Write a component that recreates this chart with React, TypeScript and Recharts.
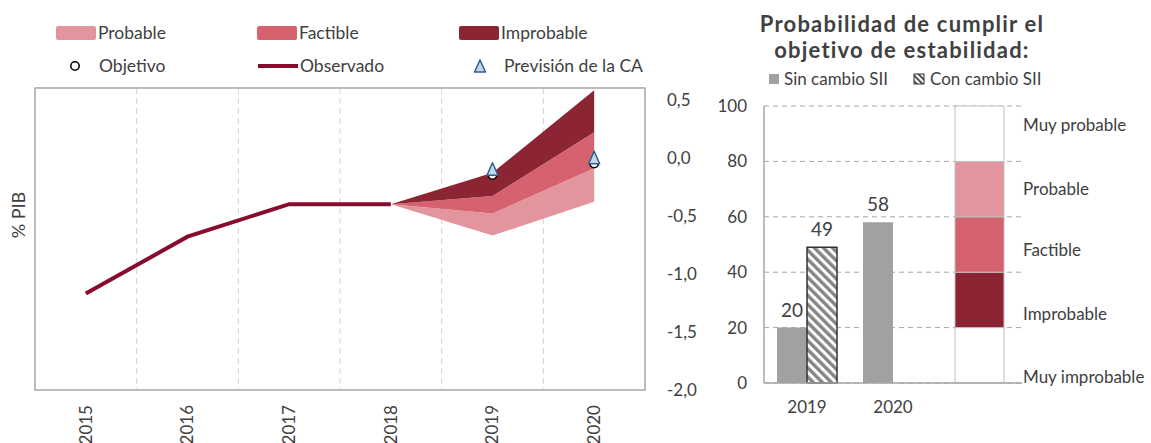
import React from 'react';
import {
  ComposedChart, Area, Line, XAxis, YAxis, ReferenceLine, ReferenceArea,
  BarChart, Bar, CartesianGrid, LabelList,
} from 'recharts';

const FONT = 'Lato, "Open Sans", sans-serif';
const TEXT = '#404040';

// ---------- Left chart data ----------
const years = ['2015', '2016', '2017', '2018', '2019', '2020'];
const observado = [-1.17, -0.68, -0.4, -0.4, null, null];
const probableLow = [null, null, null, -0.4, -0.67, -0.38];
const probableTop = [null, null, null, -0.4, -0.48, -0.09];
const factibleTop = [null, null, null, -0.4, -0.33, 0.22];
const improbableTop = [null, null, null, -0.4, -0.13, 0.58];
const objetivo = [null, null, null, null, -0.15, -0.05];
const prevision = [null, null, null, null, -0.1, 0.0];
const leftTicks = [-2, -1.5, -1, -0.5, 0, 0.5];

// each year occupies one slot of width 1 on the x scale; point sits in the middle
const yearPos = years.map((_, i) => i + 0.5);
const slotBoundaries = years.slice(1).map((_, i) => i + 1);
const X_DOMAIN: [number, number] = [0, years.length];
const Y_DOMAIN: [number, number] = [-2, 0.6];

const C_LIGHT = '#E3959E';
const C_MED = '#D6626F';
const C_DARK = '#8B2433';
const C_LINE = '#870B2D';
const C_TRI_FILL = '#C3D7EC';
const C_TRI_STROKE = '#2F5D8C';

const leftData = years.map((year, i) => ({
  year,
  pos: yearPos[i],
  observado: observado[i],
  lo: probableLow[i],
  p: probableTop[i],
  f: factibleTop[i],
  im: improbableTop[i],
  objetivo: objetivo[i],
  prevision: prevision[i],
}));

const rangeOf = (a: string, b: string) => (d: any) =>
  d[a] == null || d[b] == null ? null : [d[a], d[b]];

// ---------- Right chart data ----------
const rightCats = ['2019', '2020', ''];
const sinCambio = [20, 58, null];
const conCambio = [49, null, null];
const escalaKeys = ['e0', 'e1', 'e2', 'e3', 'e4'];
const escalaSize = [20, 20, 20, 20, 20];
const escalaColors = ['#FFFFFF', '#8B2332', '#D5616E', '#E2959D', '#FFFFFF'];
const rightTicks = [0, 20, 40, 60, 80, 100];
const escalaLabels = ['Muy improbable', 'Improbable', 'Factible', 'Probable', 'Muy probable'];
const escalaLabelAt = [2, 25, 48, 70, 93];

const rightData = rightCats.map((cat, i) => {
  const row: any = { cat, sin: sinCambio[i], con: conCambio[i] };
  escalaKeys.forEach((k, j) => {
    row[k] = i === rightCats.length - 1 ? escalaSize[j] : null;
  });
  return row;
});

const fmtComma = (v: number) => v.toFixed(1).replace('.', ',');

const CircleDot = (props: any) => {
  const { cx, cy, value, index } = props;
  if (value == null || cx == null || cy == null) return <g key={`c${index}`} />;
  return <circle key={`c${index}`} cx={cx} cy={cy} r={4.2} fill="#fff" stroke="#000" strokeWidth={1.5} />;
};

const TriDot = (props: any) => {
  const { cx, cy, value, index } = props;
  if (value == null || cx == null || cy == null) return <g key={`t${index}`} />;
  const pts = `${cx},${cy - 6.5} ${cx - 5.5},${cy + 6} ${cx + 5.5},${cy + 6}`;
  return <polygon key={`t${index}`} points={pts} fill={C_TRI_FILL} stroke={C_TRI_STROKE} strokeWidth={1.5} strokeLinejoin="round" />;
};

const YearTick = (props: any) => {
  const { x, y, payload } = props;
  const label = years[Math.round(Number(payload.value) - 0.5)];
  return (
    <text x={x} y={y} transform={`rotate(-90 ${x} ${y})`} textAnchor="end" dy="0.35em"
      fontSize={17} fill={TEXT} fontFamily={FONT}>{label}</text>
  );
};

const boundaryGenerator = (props: any) => {
  const scale = props?.xAxis?.scale;
  if (typeof scale === 'function') return slotBoundaries.map((b) => scale(b));
  const off = props?.offset;
  if (off) {
    return slotBoundaries.map((b) => off.left + ((b - X_DOMAIN[0]) / (X_DOMAIN[1] - X_DOMAIN[0])) * off.width);
  }
  return [];
};

function LeftChart() {
  return (
    <ComposedChart width={700} height={443} data={leftData}
      margin={{ top: 88, right: 0, bottom: 0, left: 35 }}>
      <CartesianGrid horizontal={false} stroke="#D3D3D3" strokeDasharray="6 4"
        verticalCoordinatesGenerator={boundaryGenerator} />
      <XAxis dataKey="pos" type="number" domain={X_DOMAIN} allowDataOverflow ticks={yearPos}
        height={53} axisLine={false} tickLine={false} tickSize={0}
        tickMargin={15} interval={0} tick={<YearTick />} />
      <YAxis orientation="right" width={55} domain={Y_DOMAIN} ticks={leftTicks}
        allowDataOverflow axisLine={false} tickLine={false} tickSize={0} tickMargin={22}
        tickFormatter={fmtComma} tick={{ fontSize: 17, fill: TEXT, fontFamily: FONT }} />
      <Area dataKey={rangeOf('lo', 'p')} fill={C_LIGHT} fillOpacity={1} stroke="none"
        isAnimationActive={false} activeDot={false} />
      <Area dataKey={rangeOf('p', 'f')} fill={C_MED} fillOpacity={1} stroke="none"
        isAnimationActive={false} activeDot={false} />
      <Area dataKey={rangeOf('f', 'im')} fill={C_DARK} fillOpacity={1} stroke="none"
        isAnimationActive={false} activeDot={false} />
      <Line dataKey="observado" stroke={C_LINE} strokeWidth={4} dot={false} activeDot={false}
        isAnimationActive={false} />
      <Line dataKey="objetivo" stroke="none" dot={CircleDot} activeDot={false} isAnimationActive={false} />
      <Line dataKey="prevision" stroke="none" dot={TriDot} activeDot={false} isAnimationActive={false} />
      <ReferenceArea x1={X_DOMAIN[0]} x2={X_DOMAIN[1]} y1={Y_DOMAIN[0]} y2={Y_DOMAIN[1]}
        fill="none" fillOpacity={0} stroke="#A6A6A6" strokeWidth={1.5} ifOverflow="visible" />
    </ComposedChart>
  );
}

function RightChart() {
  return (
    <BarChart width={451} height={443} data={rightData} barGap={0}
      margin={{ top: 106, right: 129, bottom: 0, left: 0 }}>
      <defs>
        <pattern id="hatch" patternUnits="userSpaceOnUse" width="6.4" height="6.4" patternTransform="rotate(-45)">
          <rect x="0" y="0" width="6.4" height="6.4" fill="#FFFFFF" />
          <rect x="0" y="0" width="3.4" height="6.4" fill="#858585" />
        </pattern>
      </defs>
      <CartesianGrid xAxisId="a" vertical={false} stroke="#A6A6A6" strokeDasharray="5 4" />
      <XAxis xAxisId="a" dataKey="cat" height={60} axisLine={{ stroke: '#A6A6A6', strokeWidth: 1.5 }}
        tickLine={false} tickSize={0} tickMargin={18} interval={0}
        tick={{ fontSize: 17, fill: TEXT, fontFamily: FONT }} />
      <XAxis xAxisId="b" dataKey="cat" hide />
      <YAxis width={64} domain={[0, 100]} ticks={rightTicks} axisLine={{ stroke: '#A6A6A6', strokeWidth: 1.5 }}
        tickLine={false} tickSize={0} tickMargin={17}
        tick={{ fontSize: 17, fill: TEXT, fontFamily: FONT }} />
      <Bar xAxisId="a" dataKey="sin" fill="#A0A1A3" barSize={30} isAnimationActive={false}>
        <LabelList dataKey="sin" position="top" offset={11} fill={TEXT} fontSize={19} fontFamily={FONT} />
      </Bar>
      <Bar xAxisId="a" dataKey="con" fill="url(#hatch)" stroke="#333333" strokeWidth={1.5} barSize={30}
        isAnimationActive={false}>
        <LabelList dataKey="con" position="top" offset={11} fill={TEXT} fontSize={19} fontFamily={FONT} />
      </Bar>
      {escalaKeys.map((k, j) => (
        <Bar key={k} xAxisId="b" dataKey={k} stackId="s" fill={escalaColors[j]} stroke="#BFBFBF"
          strokeWidth={1} barSize={49} isAnimationActive={false} />
      ))}
      {escalaLabels.map((lab, j) => (
        <ReferenceLine key={lab} xAxisId="a" y={escalaLabelAt[j]} stroke="none" ifOverflow="visible"
          label={{ value: lab, position: 'right', offset: 1, fill: TEXT, fontSize: 17, fontFamily: FONT }} />
      ))}
    </BarChart>
  );
}

const leftLegendBands = [
  { label: 'Probable', color: C_LIGHT, x: 56 },
  { label: 'Factible', color: C_MED, x: 257 },
  { label: 'Improbable', color: C_DARK, x: 459 },
];

function Overlay() {
  const tStyle = { fontFamily: FONT, fill: TEXT } as any;
  return (
    <svg width={1151} height={443} style={{ position: 'absolute', left: 0, top: 0, pointerEvents: 'none' }}>
      <defs>
        <pattern id="hatchLegend" patternUnits="userSpaceOnUse" width="4" height="4" patternTransform="rotate(-45)">
          <rect x="0" y="0" width="4" height="4" fill="#FFFFFF" />
          <rect x="0" y="0" width="2" height="4" fill="#555" />
        </pattern>
      </defs>
      {leftLegendBands.map((b) => (
        <g key={b.label}>
          <rect x={b.x} y={26} width={40} height={14} rx={2} fill={b.color} />
          <text x={b.x + 42} y={39} fontSize={17.5} {...tStyle}>{b.label}</text>
        </g>
      ))}
      <circle cx={75} cy={66} r={4.2} fill="#fff" stroke="#000" strokeWidth={1.5} />
      <text x={99} y={72} fontSize={17.5} {...tStyle}>Objetivo</text>
      <line x1={258} y1={66} x2={298} y2={66} stroke={C_LINE} strokeWidth={4} />
      <text x={300} y={72} fontSize={17.5} {...tStyle}>Observado</text>
      <polygon points="480,60 474.5,72 485.5,72" fill={C_TRI_FILL} stroke={C_TRI_STROKE} strokeWidth={1.5} strokeLinejoin="round" />
      <text x={504} y={72} fontSize={17.5} {...tStyle}>Previsión de la CA</text>

      <text x={19} y={215} fontSize={18} textAnchor="middle" dy="0.35em"
        transform="rotate(-90 19 215)" {...tStyle}>% PIB</text>

      <text x={902} y={32} fontSize={22} fontWeight="bold" letterSpacing={1.2} textAnchor="middle" {...tStyle}>Probabilidad de cumplir el</text>
      <text x={902} y={58} fontSize={22} fontWeight="bold" letterSpacing={1.2} textAnchor="middle" {...tStyle}>objetivo de estabilidad:</text>

      <rect x={769} y={74} width={10} height={10} fill="#A0A1A3" />
      <text x={784} y={85} fontSize={17} {...tStyle}>Sin cambio SII</text>
      <rect x={914} y={74} width={10} height={10} fill="url(#hatchLegend)" stroke="#333" strokeWidth={1} />
      <text x={930} y={85} fontSize={17} {...tStyle}>Con cambio SII</text>
    </svg>
  );
}

export default function App() {
  return (
    <div style={{ position: 'absolute', left: 0, top: 0, width: 1151, height: 443, background: '#fff', overflow: 'hidden' }}>
      <div style={{ position: 'absolute', left: 0, top: 0 }}>
        <LeftChart />
      </div>
      <div style={{ position: 'absolute', left: 700, top: 0 }}>
        <RightChart />
      </div>
      <Overlay />
    </div>
  );
}
